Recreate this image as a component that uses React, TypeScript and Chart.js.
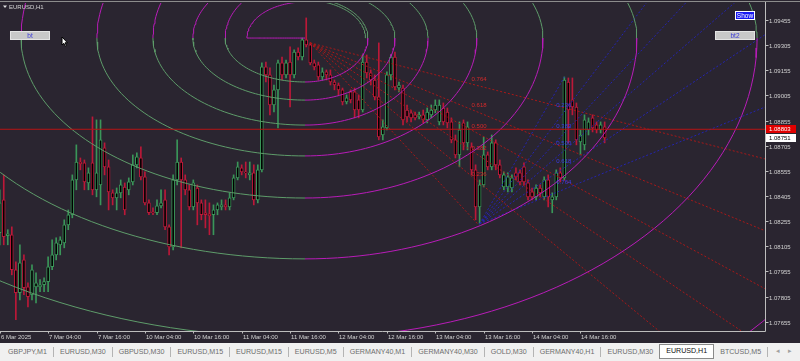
import React, { useEffect, useRef } from 'react';
import { Chart, registerables } from 'chart.js';

Chart.register(...registerables);

// ---------- price data (EURUSD H1, bar 0 = 6 Mar 16:00) ----------
const opens = [
  1.08186, 1.08382, 1.08168, 1.08174, 1.07965, 1.07828, 1.08024, 1.07863, 1.07816, 1.07863,
  1.07863, 1.07876, 1.07894, 1.07983, 1.08054, 1.08114, 1.08126, 1.08233, 1.08293, 1.08501,
  1.08608, 1.08603, 1.08483, 1.08603, 1.08442, 1.08471, 1.08692, 1.08579, 1.08424, 1.08394,
  1.08424, 1.08459, 1.08442, 1.08489, 1.08591, 1.08632, 1.08519, 1.08364, 1.08311, 1.08305,
  1.08346, 1.08382, 1.08221, 1.08102, 1.08501, 1.08608, 1.08501, 1.08442, 1.08340, 1.08453,
  1.08364, 1.08305, 1.08299, 1.08293, 1.08322, 1.08340, 1.08352, 1.08340, 1.08394, 1.08513,
  1.08573, 1.08549, 1.08531, 1.08543, 1.08382, 1.08561, 1.09175, 1.09127, 1.08948, 1.09038,
  1.09199, 1.09127, 1.09204, 1.09127, 1.09264, 1.09234, 1.09336, 1.09306, 1.09199, 1.09187,
  1.09115, 1.09145, 1.09127, 1.09085, 1.09067, 1.09038, 1.08966, 1.09026, 1.09026, 1.08978,
  1.08918, 1.09204, 1.09139, 1.09097, 1.08996, 1.08769, 1.08811, 1.09127, 1.09234, 1.09049,
  1.09049, 1.08918, 1.08901, 1.08889, 1.08877, 1.08889, 1.08859, 1.08889, 1.08918, 1.08847,
  1.08930, 1.08906, 1.08847, 1.08740, 1.08650, 1.08841, 1.08722, 1.08698, 1.08561, 1.08340,
  1.08471, 1.08650, 1.08579, 1.08722, 1.08591, 1.08459, 1.08459, 1.08453, 1.08543, 1.08543,
  1.08579, 1.08483, 1.08430, 1.08400, 1.08453, 1.08400, 1.08501, 1.08382, 1.08400, 1.08543,
  1.08513, 1.09085, 1.08978, 1.08936, 1.08728, 1.08710, 1.08799, 1.08871, 1.08829, 1.08799,
  1.08817,
];
const highs = [
  1.08442, 1.08531, 1.08204, 1.08221, 1.08012, 1.08114, 1.08054, 1.07888, 1.07995, 1.07947,
  1.07906, 1.07917, 1.08042, 1.08144, 1.08156, 1.08162, 1.08263, 1.08322, 1.08531, 1.08710,
  1.08632, 1.08620, 1.08573, 1.08877, 1.08859, 1.08859, 1.08722, 1.08620, 1.08442, 1.08453,
  1.08501, 1.08483, 1.08513, 1.08650, 1.08662, 1.08698, 1.08549, 1.08382, 1.08334, 1.08382,
  1.08442, 1.08442, 1.08233, 1.08531, 1.08740, 1.08632, 1.08531, 1.08471, 1.08501, 1.08471,
  1.08382, 1.08382, 1.08364, 1.08352, 1.08364, 1.08382, 1.08382, 1.08424, 1.08531, 1.08608,
  1.08591, 1.08608, 1.08608, 1.08591, 1.08591, 1.09199, 1.09204, 1.09169, 1.09067, 1.09216,
  1.09234, 1.09216, 1.09294, 1.09276, 1.09288, 1.09347, 1.09467, 1.09318, 1.09216, 1.09204,
  1.09169, 1.09157, 1.09157, 1.09097, 1.09079, 1.09049, 1.09008, 1.09038, 1.09049, 1.09008,
  1.09246, 1.09246, 1.09157, 1.09127, 1.09318, 1.08859, 1.09145, 1.09246, 1.09264, 1.09085,
  1.09067, 1.08948, 1.08918, 1.08906, 1.08906, 1.08918, 1.08930, 1.08948, 1.08978, 1.08978,
  1.08960, 1.08930, 1.08871, 1.08769, 1.08847, 1.08859, 1.08847, 1.08722, 1.08591, 1.08501,
  1.08757, 1.08668, 1.08769, 1.08740, 1.08620, 1.08549, 1.08543, 1.08531, 1.08573, 1.08561,
  1.08603, 1.08501, 1.08453, 1.08471, 1.08471, 1.08519, 1.08531, 1.08424, 1.08561, 1.08573,
  1.09115, 1.09109, 1.09109, 1.08960, 1.08799, 1.08889, 1.08871, 1.08889, 1.08847, 1.08847,
  1.08847,
];
const lows = [
  1.08114, 1.08114, 1.08114, 1.07935, 1.07667, 1.07786, 1.07816, 1.07744, 1.07786, 1.07768,
  1.07834, 1.07834, 1.07834, 1.07965, 1.08024, 1.08054, 1.08096, 1.08204, 1.08275, 1.08442,
  1.08561, 1.08442, 1.08442, 1.08412, 1.08400, 1.08352, 1.08531, 1.08322, 1.08352, 1.08322,
  1.08394, 1.08293, 1.08412, 1.08471, 1.08573, 1.08501, 1.08352, 1.08293, 1.08293, 1.08293,
  1.08334, 1.08204, 1.08054, 1.08084, 1.08471, 1.08096, 1.08412, 1.08322, 1.08322, 1.08233,
  1.08263, 1.08215, 1.08174, 1.08174, 1.08293, 1.08322, 1.08322, 1.08322, 1.08382, 1.08501,
  1.08531, 1.08513, 1.08501, 1.08352, 1.08364, 1.08549, 1.09085, 1.08889, 1.08906, 1.08811,
  1.09097, 1.09109, 1.08936, 1.09109, 1.09216, 1.09216, 1.09294, 1.09187, 1.09157, 1.09097,
  1.09097, 1.09097, 1.09067, 1.09038, 1.09008, 1.08948, 1.08954, 1.08960, 1.08871, 1.08871,
  1.08906, 1.09109, 1.09067, 1.08978, 1.08740, 1.08740, 1.08799, 1.09097, 1.09038, 1.09026,
  1.08829, 1.08847, 1.08847, 1.08859, 1.08865, 1.08841, 1.08841, 1.08871, 1.08901, 1.08829,
  1.08829, 1.08811, 1.08722, 1.08632, 1.08579, 1.08680, 1.08680, 1.08531, 1.08263, 1.08239,
  1.08459, 1.08561, 1.08561, 1.08561, 1.08513, 1.08442, 1.08430, 1.08430, 1.08501, 1.08471,
  1.08471, 1.08382, 1.08382, 1.08382, 1.08400, 1.08382, 1.08340, 1.08305, 1.08382, 1.08489,
  1.08501, 1.08722, 1.08889, 1.08710, 1.08650, 1.08680, 1.08769, 1.08787, 1.08781, 1.08781,
  1.08722,
];
const closes = [
  1.08364, 1.08162, 1.08180, 1.07965, 1.07828, 1.08006, 1.07858, 1.07804, 1.07965, 1.07888,
  1.07876, 1.07894, 1.07983, 1.08054, 1.08126, 1.08144, 1.08233, 1.08293, 1.08501, 1.08608,
  1.08597, 1.08489, 1.08543, 1.08442, 1.08543, 1.08740, 1.08579, 1.08430, 1.08394, 1.08424,
  1.08471, 1.08322, 1.08489, 1.08591, 1.08638, 1.08519, 1.08364, 1.08305, 1.08305, 1.08346,
  1.08364, 1.08221, 1.08102, 1.08501, 1.08608, 1.08501, 1.08442, 1.08340, 1.08483, 1.08364,
  1.08293, 1.08293, 1.08287, 1.08322, 1.08352, 1.08352, 1.08340, 1.08394, 1.08513, 1.08579,
  1.08549, 1.08543, 1.08543, 1.08382, 1.08561, 1.09175, 1.09127, 1.08948, 1.09038, 1.09199,
  1.09127, 1.09199, 1.09127, 1.09264, 1.09234, 1.09336, 1.09306, 1.09199, 1.09175, 1.09115,
  1.09145, 1.09127, 1.09085, 1.09067, 1.09038, 1.08966, 1.08990, 1.08978, 1.08918, 1.08918,
  1.09204, 1.09139, 1.09097, 1.08996, 1.08757, 1.08817, 1.09127, 1.09234, 1.09055, 1.09067,
  1.08859, 1.08877, 1.08871, 1.08871, 1.08889, 1.08859, 1.08906, 1.08918, 1.08948, 1.08948,
  1.08847, 1.08841, 1.08740, 1.08650, 1.08799, 1.08722, 1.08817, 1.08561, 1.08340, 1.08471,
  1.08650, 1.08579, 1.08722, 1.08591, 1.08531, 1.08531, 1.08519, 1.08513, 1.08519, 1.08489,
  1.08489, 1.08400, 1.08400, 1.08453, 1.08424, 1.08501, 1.08400, 1.08400, 1.08543, 1.08513,
  1.09097, 1.08918, 1.08936, 1.08740, 1.08769, 1.08859, 1.08847, 1.08811, 1.08799, 1.08829,
  1.08751,
];

// ---------- axes ----------
const timeTickBars = [0, 12, 24, 36, 48, 60, 72, 84, 96, 108, 120, 132, 144];
const timeTickLabels = [
  '6 Mar 2025', '7 Mar 04:00', '7 Mar 16:00', '10 Mar 04:00', '10 Mar 16:00', '11 Mar 04:00',
  '11 Mar 16:00', '12 Mar 04:00', '12 Mar 16:00', '13 Mar 04:00', '13 Mar 16:00',
  '14 Mar 04:00', '14 Mar 16:00',
];
const priceTicks = [
  1.09455, 1.09305, 1.09155, 1.09005, 1.08855, 1.08705, 1.08555, 1.08405, 1.08255, 1.08105,
  1.07955, 1.07805, 1.07655,
];
const LINE_PRICE = 1.08803;
const BID_PRICE = 1.08751;

// ---------- Fibonacci arcs (centre at the 11 Mar high) ----------
const arcCenterBar = 75.7;
const arcCenterPrice = 1.09347;
const arcRxLeft = [14.4, 19.8, 27.8, 37.7, 51.6, 70.4, 95.2, 128.9, 174.0];
const arcRxRight = [15.0, 15.6, 22.3, 30.5, 42.6, 59.0, 82.3, 112.1, 151.0];
const arcRyUpLeft = [0.00215, 0.00346, 0.00417, 0.00656, 0.00864, 0.01192, 0.0155, 0.02086, 0.028];
const arcRyUpRight = [0.00226, 0.00238, 0.00298, 0.00399, 0.00536, 0.00715, 0.00894, 0.01132, 0.015];
const arcRyDown = [0, 0.00262, 0.0037, 0.00519, 0.00703, 0.00954, 0.01317, 0.01788, 0.02563];

// ---------- Fibonacci fans ----------
const fanLevels = [0.236, 0.382, 0.5, 0.618, 0.764];
const redFanFrom = { bar: 77, price: 1.09318 };
const redFanTo = { bar: 118.5, price: 1.08239 };
const blueFanFrom = { bar: 119, price: 1.08239 };
const blueFanTo = { bar: 140, price: 1.09115 };

const tabLabels = [
  'GBPJPY,M1', 'EURUSD,M30', 'GBPUSD,M30', 'EURUSD,M15', 'EURUSD,M15', 'EURUSD,M5',
  'GERMANY40,M1', 'GERMANY40,M30', 'GOLD,M30', 'GERMANY40,H1', 'EURUSD,M30', 'EURUSD,H1',
  'BTCUSD,M5',
];
const ACTIVE_TAB = 11;

// ---------- style ----------
const BG = '#2a2530';
const BULL = '#3a9659';
const BEAR = '#bc1838';
const ARC_GREEN = '#5e9c6a';
const ARC_MAGENTA = '#b81cb8';
const FAN_RED = '#a81818';
const FAN_BLUE = '#2424b0';
const AXIS_FONT = '6px "Liberation Sans", Arial, sans-serif';

const X_MIN = 0.07;
const X_MAX = 189.76;
const Y_MIN = 1.076;
const Y_MAX = 1.09556;

function quarter(cx: number, cy: number, rx: number, ry: number, sx: number, sy: number) {
  const pts: { x: number; y: number }[] = [];
  const n = 48;
  for (let k = 0; k <= n; k++) {
    const t = (k / n) * (Math.PI / 2);
    pts.push({ x: cx + sx * rx * Math.cos(t), y: cy + sy * ry * Math.sin(t) });
  }
  return pts;
}

function fanLine(from: { bar: number; price: number }, to: { bar: number; price: number }, level: number) {
  const p2 = to.price + level * (from.price - to.price);
  const farBar = 400;
  const slope = (p2 - from.price) / (to.bar - from.bar);
  return [
    { x: from.bar, y: from.price },
    { x: farBar, y: from.price + slope * (farBar - from.bar) },
  ];
}

function buildDatasets() {
  const idx = opens.map((_, i) => i);
  const col = idx.map((i) => (closes[i] >= opens[i] ? BULL : BEAR));
  const ds: any[] = [];

  const lineBase = { type: 'line', pointRadius: 0, borderWidth: 1, fill: false, tension: 0, order: 0 };

  // horizontal price line
  ds.push({
    ...lineBase,
    data: [{ x: -10, y: LINE_PRICE }, { x: 400, y: LINE_PRICE }],
    borderColor: '#b81414',
  });

  // arcs
  arcRxLeft.forEach((_, k) => {
    const cx = arcCenterBar;
    const cy = arcCenterPrice;
    ds.push({ ...lineBase, data: quarter(cx, cy, arcRxLeft[k], arcRyUpLeft[k], -1, 1), borderColor: ARC_MAGENTA });
    ds.push({ ...lineBase, data: quarter(cx, cy, arcRxRight[k], arcRyUpRight[k], 1, 1), borderColor: ARC_GREEN });
    ds.push({ ...lineBase, data: quarter(cx, cy, arcRxLeft[k], arcRyDown[k], -1, -1), borderColor: k === 0 ? ARC_MAGENTA : ARC_GREEN });
    if (arcRyDown[k] > 0) {
      ds.push({ ...lineBase, data: quarter(cx, cy, arcRxRight[k], arcRyDown[k], 1, -1), borderColor: ARC_MAGENTA });
    }
  });

  // fans
  fanLevels.forEach((lv) => {
    ds.push({ ...lineBase, data: fanLine(redFanFrom, redFanTo, lv), borderColor: FAN_RED, borderDash: [2, 2] });
    ds.push({ ...lineBase, data: fanLine(blueFanFrom, blueFanTo, lv), borderColor: FAN_BLUE, borderDash: [2, 2] });
  });
  ds.push({
    ...lineBase,
    data: [{ x: redFanFrom.bar, y: redFanFrom.price }, { x: redFanTo.bar, y: redFanTo.price }],
    borderColor: FAN_RED,
    borderDash: [2, 2],
  });
  ds.push({
    ...lineBase,
    data: [{ x: blueFanFrom.bar, y: blueFanFrom.price }, { x: blueFanTo.bar, y: blueFanTo.price }],
    borderColor: FAN_BLUE,
    borderDash: [2, 2],
  });

  // candle bodies
  ds.push({
    type: 'bar',
    data: idx.map((i) => ({ x: i, y: [opens[i], closes[i]] })),
    backgroundColor: '#000000',
    borderColor: col,
    borderWidth: 1,
    borderSkipped: false,
    barThickness: 3,
    minBarLength: 1,
    grouped: false,
    order: 1,
  });
  // wicks
  ds.push({
    type: 'bar',
    data: idx.map((i) => ({ x: i, y: [lows[i], highs[i]] })),
    backgroundColor: col,
    borderWidth: 0,
    barThickness: 1,
    grouped: false,
    order: 2,
  });
  return ds;
}

const chromePlugin = {
  id: 'mt4chrome',
  beforeDraw(chart: any) {
    const { ctx, width, height } = chart;
    ctx.save();
    ctx.fillStyle = BG;
    ctx.fillRect(0, 0, width, height);
    ctx.restore();
  },
  afterDraw(chart: any) {
    const { ctx, chartArea: a, scales } = chart;
    const xs = scales.x;
    const ys = scales.y;
    ctx.save();

    // top frame line
    ctx.fillStyle = '#8c8c8c';
    ctx.fillRect(0, 1, chart.width, 1);

    const axX = Math.round(a.right) + 0.5;
    const axY = Math.round(a.bottom) + 0.5;
    ctx.strokeStyle = '#bdbdbd';
    ctx.lineWidth = 1;
    ctx.beginPath();
    ctx.moveTo(axX, 2);
    ctx.lineTo(axX, axY);
    ctx.lineTo(0, axY);
    ctx.stroke();

    ctx.font = AXIS_FONT;
    ctx.fillStyle = '#d2d2d2';
    ctx.textAlign = 'left';
    ctx.textBaseline = 'middle';
    priceTicks.forEach((p) => {
      const y = Math.round(ys.getPixelForValue(p)) + 0.5;
      ctx.beginPath();
      ctx.moveTo(axX, y);
      ctx.lineTo(axX + 3, y);
      ctx.stroke();
      ctx.fillText(p.toFixed(5), axX + 3.5, y + 0.5);
    });

    timeTickBars.forEach((b, k) => {
      const x = Math.round(xs.getPixelForValue(b)) + 0.5;
      ctx.beginPath();
      ctx.moveTo(x, axY);
      ctx.lineTo(x, axY + 2);
      ctx.stroke();
      ctx.fillStyle = '#d2d2d2';
      ctx.fillText(timeTickLabels[k], Math.max(x + 0.5, 0), axY + 6);
    });

    // price tags
    const tag = (price: number, bg: string, fg: string) => {
      const y = Math.round(ys.getPixelForValue(price));
      ctx.fillStyle = bg;
      ctx.fillRect(axX + 0.5, y - 4, 30, 8);
      ctx.fillStyle = fg;
      ctx.fillText(price.toFixed(5), axX + 3.5, y + 0.5);
    };
    tag(LINE_PRICE, '#e00000', '#ffffff');
    tag(BID_PRICE, '#ffffff', '#000000');

    // fan level labels
    ctx.textBaseline = 'alphabetic';
    ctx.textAlign = 'left';
    fanLevels.forEach((lv) => {
      const rp = redFanTo.price + lv * (redFanFrom.price - redFanTo.price);
      const rx = xs.getPixelForValue(redFanTo.bar);
      const ry = ys.getPixelForValue(rp);
      ctx.fillStyle = '#d42a2a';
      ctx.fillText(lv.toFixed(3), rx - 6, ry - 5);
      const bp = blueFanTo.price + lv * (blueFanFrom.price - blueFanTo.price);
      const bx = xs.getPixelForValue(blueFanTo.bar);
      const by = ys.getPixelForValue(bp);
      ctx.fillStyle = '#3c3ce8';
      ctx.fillText(lv.toFixed(3), bx - 8, by - 5);
    });

    // title
    ctx.fillStyle = '#e0e0e0';
    ctx.beginPath();
    ctx.moveTo(3, 5.5);
    ctx.lineTo(7, 5.5);
    ctx.lineTo(5, 8);
    ctx.closePath();
    ctx.fill();
    ctx.font = '6px "Liberation Sans", Arial, sans-serif';
    ctx.textBaseline = 'middle';
    ctx.fillStyle = '#d6d6d6';
    ctx.fillText('EURUSD,H1', 9, 7.5);

    // buttons
    const button = (x: number, y: number, w: number, h: number, label: string, bg: string, border: string, fg: string) => {
      ctx.fillStyle = bg;
      ctx.fillRect(x, y, w, h);
      ctx.strokeStyle = border;
      ctx.strokeRect(x + 0.5, y + 0.5, w - 1, h - 1);
      ctx.fillStyle = fg;
      ctx.textAlign = 'center';
      ctx.font = '6.5px "Liberation Sans", Arial, sans-serif';
      ctx.fillText(label, x + w / 2, y + h / 2 + 0.5);
      ctx.textAlign = 'left';
    };
    button(10, 31, 40, 9, 'bt', '#c8c8c8', '#e4e4e4', '#3a3ad8');
    button(715, 31, 40, 9, 'bt2', '#c8c8c8', '#e4e4e4', '#3a3ad8');
    button(735, 11, 20, 9, 'Show', '#1818f0', '#ffffff', '#ffffff');

    // mouse cursor
    ctx.fillStyle = '#ffffff';
    ctx.strokeStyle = '#000000';
    ctx.beginPath();
    ctx.moveTo(62, 37);
    ctx.lineTo(62, 45);
    ctx.lineTo(63.8, 43.3);
    ctx.lineTo(65.2, 46.2);
    ctx.lineTo(66.4, 45.6);
    ctx.lineTo(65, 42.8);
    ctx.lineTo(67.5, 42.8);
    ctx.closePath();
    ctx.fill();
    ctx.stroke();

    ctx.restore();
  },
};

export default function App() {
  const ref = useRef<HTMLCanvasElement>(null);

  useEffect(() => {
    document.body.style.margin = '0';
    const canvas = ref.current;
    if (!canvas) return;
    const chart = new Chart(canvas, {
      type: 'bar',
      data: { datasets: buildDatasets() },
      options: {
        animation: false,
        responsive: false,
        devicePixelRatio: 1,
        events: [],
        layout: { padding: { left: 0, top: 3, right: 35, bottom: 12 } },
        plugins: { legend: { display: false }, tooltip: { enabled: false } },
        scales: {
          x: { type: 'linear', min: X_MIN, max: X_MAX, display: false, offset: false, bounds: 'data', grid: { display: false } },
          y: { type: 'linear', min: Y_MIN, max: Y_MAX, display: false, beginAtZero: false, bounds: 'data', grid: { display: false } },
        },
      } as any,
      plugins: [chromePlugin],
    } as any);
    return () => chart.destroy();
  }, []);

  return (
    <div style={{ position: 'fixed', left: 0, top: 0, width: 800, height: 361, background: '#f0f0f0', overflow: 'hidden' }}>
      <canvas ref={ref} width={800} height={343} style={{ display: 'block', width: 800, height: 343 }} />
      <div
        style={{
          position: 'absolute', left: 0, top: 343, width: 800, height: 18, background: '#f0f0f0',
          display: 'flex', alignItems: 'center', fontFamily: '"Liberation Sans", Arial, sans-serif',
          fontSize: '7.1px', color: '#6e6e6e', paddingLeft: 2, boxSizing: 'border-box', whiteSpace: 'nowrap',
        }}
      >
        {tabLabels.map((t, i) => {
          const active = i === ACTIVE_TAB;
          const sep = i > 0 && !active && i !== ACTIVE_TAB + 1;
          return (
            <div key={i} style={{ display: 'flex', alignItems: 'center', height: '100%' }}>
              {sep ? <div style={{ width: 1, height: 10, background: '#b4b4b4' }} /> : null}
              <div
                style={{
                  padding: '0 6px',
                  height: active ? 13 : 'auto',
                  lineHeight: active ? '13px' : '11px',
                  background: active ? '#ffffff' : 'transparent',
                  border: active ? '1px solid #8a8a8a' : 'none',
                  color: active ? '#111111' : '#6e6e6e',
                  marginTop: active ? -2 : 0,
                }}
              >
                {t}
              </div>
            </div>
          );
        })}
        <div style={{ width: 1, height: 10, background: '#b4b4b4' }} />
        <div style={{ position: 'absolute', left: 776, top: 4, color: '#a0a0a0', fontSize: '7px' }}>◂</div>
        <div style={{ position: 'absolute', left: 788, top: 4, color: '#a0a0a0', fontSize: '7px' }}>▸</div>
      </div>
    </div>
  );
}
